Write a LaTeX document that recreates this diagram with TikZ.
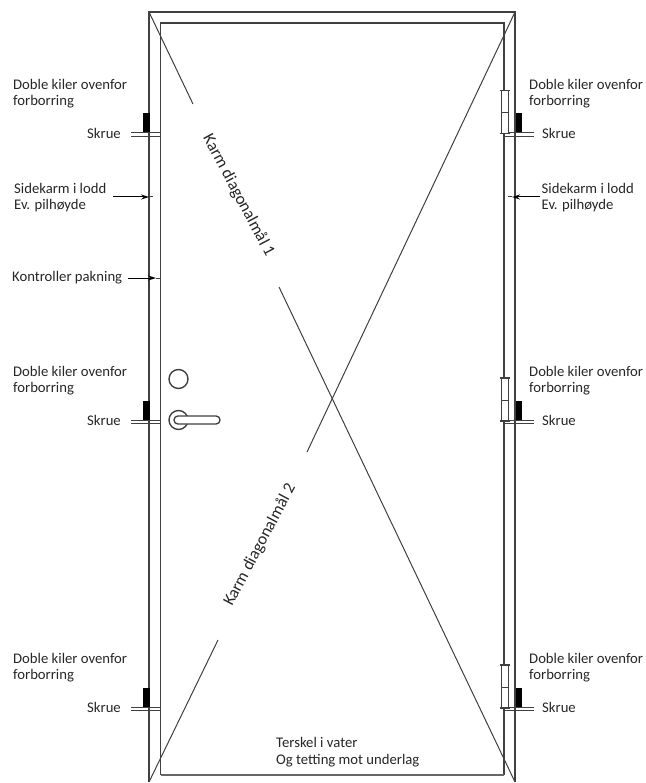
\documentclass[tikz,border=0pt]{standalone}
\usepackage{fontspec}
\setmainfont{Carlito}
\usetikzlibrary{arrows.meta}
\usetikzlibrary{positioning}
\definecolor{linegray}{gray}{0.25}
\tikzstyle{label} = [inner sep=0pt, anchor=west, align=left, text=black!85, font=\fontsize{14.7}{16.5}\selectfont]
\tikzstyle{diaglabel} = [inner sep=0pt, anchor=center, text=black!85, font=\fontsize{16.8}{18}\selectfont]
\tikzstyle{frame} = [line width=1.3pt, draw=linegray]
\tikzstyle{innerframe} = [line width=1.8pt, draw=linegray]
\tikzstyle{thin} = [line width=1pt, draw=linegray]
\tikzstyle{arrow} = [line width=1pt, draw=black, -{Stealth[length=8pt,width=5pt]}]
\tikzstyle{wedge} = [fill=black, draw=none]
\begin{document}
\begin{tikzpicture}[x=1pt,y=-1pt]
        \useasboundingbox (0,0) rectangle (645,783);

        % frame
        \coordinate (outerTL) at (149,12);
        \coordinate (outerTR) at (515,12);
        \coordinate (outerBL) at (149,782);
        \coordinate (outerBR) at (515,782);
        \coordinate (innerTL) at (160.5,23);
        \coordinate (innerTR) at (504,23);
        \coordinate (innerBL) at (160.5,775);
        \coordinate (innerBR) at (504,775);
        \draw [frame] (outerBL) -- (outerTL) -- (outerTR) -- (outerBR);
        \draw [innerframe] (innerBL) -- (innerTL) -- (innerTR) -- (innerBR);
        \draw [innerframe, line width=2.2pt, draw=linegray!80] (innerBL) -- (innerBR);

        % diagonals
        \draw [thin] (outerTL) -- (193,104);
        \draw [thin] (279,287) -- (outerBR);
        \draw [thin] (outerTR) -- (307,452);
        \draw [thin] (218,640) -- (outerBL);
        \node (diagOne) [diaglabel, rotate=-62] at (238.5,195.5) {Karm diagonalmål 1};
        \node (diagTwo) [diaglabel, rotate=62] at (260,545) {Karm diagonalmål 2};

        % wedges, screws and hinges
        \foreach \y/\ty in {134.5/85, 422/372, 709/659} {
            \fill [wedge] (143,\y-21) rectangle (149.5,\y-1.5);
            \fill [wedge] (515.5,\y-21) rectangle (522,\y-1.5);
            \draw [thin] (131,\y-1.6) -- (160.5,\y-1.6);
            \draw [thin] (131,\y+1.6) -- (160.5,\y+1.6);
            \draw [thin] (504,\y-1.6) -- (534,\y-1.6);
            \draw [thin] (504,\y+1.6) -- (534,\y+1.6);
            \fill [white] (501,\y-44) rectangle (508,\y-1);
            \draw [thin] (501,\y-44) rectangle (508,\y-1);
            \draw [thin] (501,\y-22) -- (508,\y-22);
            \draw [innerframe] (499.5,\y-44) -- (509.5,\y-44);
            \draw [innerframe] (499.5,\y-1) -- (509.5,\y-1);
            \node (kilerL\y) [label] at (13,\ty+8.5) {Doble kiler ovenfor\\forborring};
            \node (kilerR\y) [label] at (529,\ty+8.5) {Doble kiler ovenfor\\forborring};
            \node (skrueL\y) [label] at (87,\y-1.5) {Skrue};
            \node (skrueR\y) [label] at (542,\y-1.5) {Skrue};
        }

        % lock and handle
        \node (lock) [circle, draw=linegray, line width=1.4pt, minimum size=19pt, inner sep=0pt] at (178.5,379) {};
        \node (rosette) [circle, draw=linegray, line width=1.4pt, minimum size=19pt, inner sep=0pt] at (178.5,420) {};
        \draw [frame, fill=white, rounded corners=3.9pt] (174,416) rectangle (220,424);

        % labels with arrows
        \node (sideL) [label] at (14,197.5) {Sidekarm i lodd\\Ev. pilhøyde};
        \node (sideR) [label] at (541.5,197.5) {Sidekarm i lodd\\Ev. pilhøyde};
        \node (pakning) [label] at (12,278) {Kontroller pakning};
        \node (terskel) [label] at (276,752) {Terskel i vater\\Og tetting mot underlag};

        \coordinate (sideLtip) at (149,197);
        \coordinate (sideLend) at (153,197);
        \coordinate (sideRtip) at (512,197);
        \coordinate (sideRend) at (508,197);
        \coordinate (pakningtip) at (156,278);
        \coordinate (pakningend) at (160,278);

        \draw [arrow] (113,197) -- (sideLtip);
        \draw [thin] (sideLtip) -- (sideLend);
        \draw [arrow] (540,197) -- (sideRtip);
        \draw [thin] (sideRtip) -- (sideRend);
        \draw [arrow, shorten <=6pt] (pakning) -- (pakningtip);
        \draw [thin] (pakningtip) -- (pakningend);
    \end{tikzpicture}
\end{document}
